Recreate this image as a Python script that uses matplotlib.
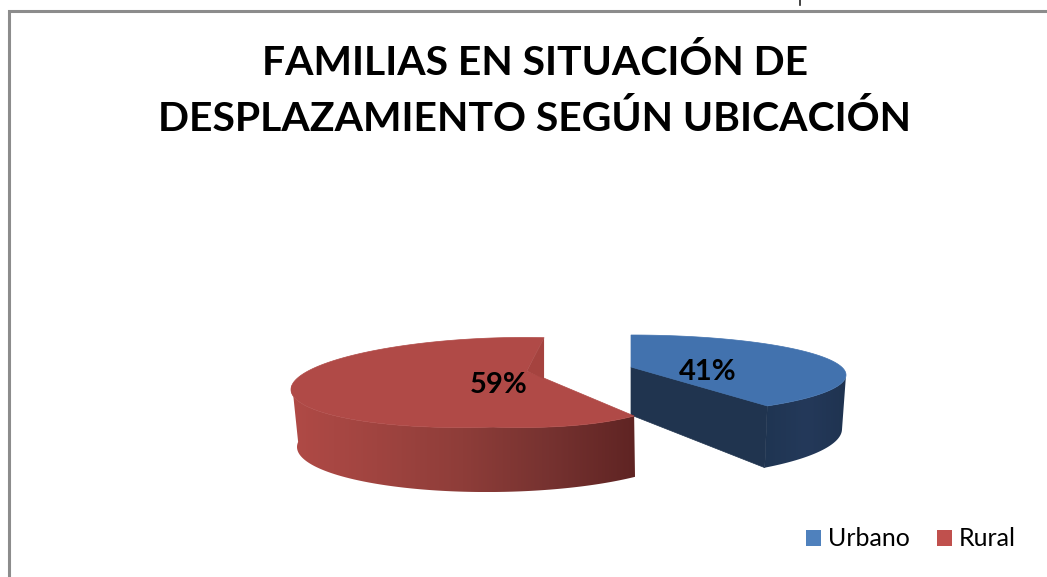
import numpy as np
import matplotlib
matplotlib.use("Agg")
import matplotlib.pyplot as plt
from matplotlib.colors import LinearSegmentedColormap
from matplotlib.patches import Patch, Polygon

labels = ["Urbano", "Rural"]
values = [41, 59]
title = "FAMILIAS EN SITUACIÓN DE\nDESPLAZAMIENTO SEGÚN UBICACIÓN"
legend_colors = ["#4F81BD", "#C0504D"]

plt.rcParams['font.family'] = ['Lato', 'DejaVu Sans']

fig = plt.figure(figsize=(10.47, 5.77), dpi=100)
ax = fig.add_axes([0, 0, 1, 1])
ax.set_xlim(0, 1047)
ax.set_ylim(577, 0)
ax.axis("off")

# frame left over from the scanned page
ax.plot([8.5, 8.5, 1047], [577, 10.5, 10.5], color="#8C8C8C", lw=2.2, solid_joinstyle="miter")
ax.plot([799.5, 799.5], [0, 5], color="#222222", lw=1.2)


def rim(theta, start, phi0, gain, cx, cy, rx, ry, tilt, bulge=0):
    # slice angle (degrees, clockwise from top) to a point on the distorted ellipse
    phi = np.radians(phi0 + gain * (theta - start))
    s, c = np.sin(phi), np.cos(phi)
    x = cx + rx * s
    y = cy - ry * c + tilt * (x - cx) + bulge * np.clip(s, 0, None) * np.clip(-c, 0, None)
    return x, y


def shaded(points, colors, zorder):
    # horizontal gradient clipped to a polygon
    pts = np.array(points)
    cmap = LinearSegmentedColormap.from_list("wall", colors)
    grad = np.linspace(0, 1, 256).reshape(1, -1)
    im = ax.imshow(grad, cmap=cmap, aspect="auto", zorder=zorder,
                   extent=(pts[:, 0].min(), pts[:, 0].max(), pts[:, 1].max(), pts[:, 1].min()))
    patch = Polygon(pts, closed=True, transform=ax.transData, fc="none", ec="none")
    ax.add_patch(patch)
    im.set_clip_path(patch)
    ax.set_xlim(0, 1047)
    ax.set_ylim(577, 0)


angle = 360 * values[0] / sum(values)

# Urbano slice
blue_top = dict(start=0, phi0=0, gain=0.953, cx=631, cy=375, rx=215, ry=40, tilt=0)
blue_bot = dict(start=0, phi0=0, gain=0.953, cx=631, cy=429, rx=211, ry=50, tilt=0)
blue_apex = (631, 367)
blue_apex_low = (631, 415)
t = np.linspace(0, angle, 120)
tx, ty = rim(t, **blue_top)
wall_t = t[t >= angle * 0.64]
wx, wy = rim(wall_t, **blue_top)
bx, by = rim(wall_t, **blue_bot)
shaded(list(zip(wx, wy)) + list(zip(bx[::-1], by[::-1])), ["#1F3552", "#24395A", "#1F3350"], 2)
ax.add_patch(Polygon([blue_apex, (tx[-1], ty[-1]), (bx[-1], by[-1]), blue_apex_low],
                     closed=True, fc="#20344F", ec="#20344F", lw=0.5, zorder=2))
ax.add_patch(Polygon([blue_apex] + list(zip(tx, ty)), closed=True, fc="#4272AE", ec="#4272AE", lw=0.5, zorder=3))

# Rural slice
red_top = dict(start=angle, phi0=135, gain=1.13, cx=492, cy=382.5, rx=201, ry=44.5, tilt=-0.035, bulge=14)
red_bot = dict(start=angle, phi0=135, gain=1.13, cx=495, cy=445, rx=198, ry=47, tilt=-0.01)
red_apex = (527, 371)
t = np.linspace(angle, 360, 200)
tx, ty = rim(t, **red_top)
wall_t = t[t <= angle + 125]
wx, wy = rim(wall_t, **red_top)
bx, by = rim(wall_t, **red_bot)
shaded(list(zip(wx, wy)) + list(zip(bx[::-1], by[::-1])),
       ["#5F2423", "#763230", "#8E3D39", "#A04440", "#B04A46"][::-1], 4)
ax.add_patch(Polygon([red_apex] + list(zip(tx, ty)), closed=True, fc="#B04A47", ec="#B04A47", lw=0.5, zorder=5))
ax.add_patch(Polygon([red_apex, (tx[-1], ty[-1]), (tx[-1], 379)], closed=True, fc="#A5433F", ec="none", zorder=6))

# data labels
ax.text(708, 372, "%d%%" % values[0], ha="center", va="center", fontsize=21, fontweight="bold", color="black", zorder=8)
ax.text(499, 385, "%d%%" % values[1], ha="center", va="center", fontsize=21, fontweight="bold", color="black", zorder=8)

ax.text(535, 91, title, ha="center", va="center", fontsize=29.4, fontweight="bold", color="black", linespacing=1.57)

handles = [Patch(fc=c, ec="none", label=l) for c, l in zip(legend_colors, labels)]
ax.legend(handles=handles, loc="center right", bbox_to_anchor=(1015.5, 539), bbox_transform=ax.transData,
          frameon=False, ncol=2, fontsize=18, handlelength=0.6, handleheight=0.6,
          handletextpad=0.28, columnspacing=1.05, borderpad=0, borderaxespad=0)

fig.savefig("out.png", dpi=100)
